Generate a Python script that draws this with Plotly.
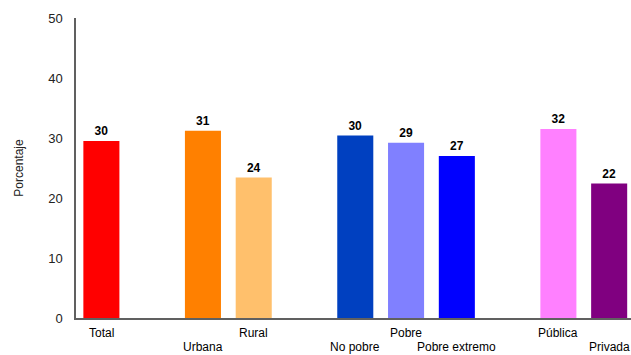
import plotly.graph_objects as go

categories = ["Total", "Urbana", "Rural", "No pobre", "Pobre", "Pobre extremo", "Pública", "Privada"]
positions = [0, 2, 3, 5, 6, 7, 9, 10]
values = [29.5, 31.2, 23.4, 30.4, 29.2, 27.0, 31.5, 22.4]
labels = ["30", "31", "24", "30", "29", "27", "32", "22"]
colors = ["#FF0000", "#FF8000", "#FFC06C", "#0040C0", "#8080FF", "#0000FF", "#FF80FF", "#800080"]
label_rows = [0, 1, 0, 1, 0, 1, 0, 1]

fig = go.Figure()
fig.add_trace(go.Bar(
    x=positions, y=values, width=0.71,
    marker=dict(color=colors, line=dict(width=0)),
    text=labels, texttemplate="<b>%{text}</b>", textposition="outside",
    textfont=dict(family="Liberation Sans, Arial", size=12, color="black"),
    cliponaxis=False, hoverinfo="skip",
))

for p, c, r in zip(positions, categories, label_rows):
    fig.add_annotation(
        x=p, xref="x", y=-0.051 - r * 0.046, yref="paper",
        text=c, showarrow=False, yanchor="middle", xanchor="center",
        font=dict(family="Liberation Sans, Arial", size=12, color="black"),
    )

fig.update_layout(
    width=631, height=355,
    margin=dict(l=76, r=0, t=18, b=37),
    plot_bgcolor="white", paper_bgcolor="white",
    showlegend=False,
    font=dict(family="Liberation Sans, Arial", size=12, color="#222"),
)
fig.update_xaxes(
    range=[-0.5, 10.43], showticklabels=False, showgrid=False, zeroline=False,
    showline=True, linecolor="#606060", linewidth=1.5, ticks="",
)
fig.update_yaxes(
    range=[0, 50], dtick=10, showgrid=False, zeroline=False,
    showline=True, linecolor="#606060", linewidth=1.5, ticks="",
    ticklabelstandoff=9,
    tickfont=dict(family="Liberation Sans, Arial", size=13, color="#222"),
    title=dict(text="Porcentaje", font=dict(family="Liberation Sans, Arial", size=12, color="#222"), standoff=22),
)

fig.write_html(
    "out.html",
    config={"displayModeBar": False},
    post_script="document.body.style.margin='0';document.body.style.overflow='hidden';",
)
